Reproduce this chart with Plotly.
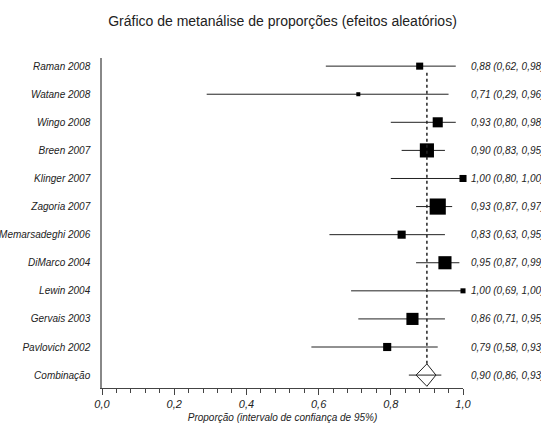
import plotly.graph_objects as go

studies = ["Raman 2008", "Watane 2008", "Wingo 2008", "Breen 2007", "Klinger 2007",
           "Zagoria 2007", "Memarsadeghi 2006", "DiMarco 2004", "Lewin 2004",
           "Gervais 2003", "Pavlovich 2002"]
est = [0.88, 0.71, 0.93, 0.90, 1.00, 0.93, 0.83, 0.95, 1.00, 0.86, 0.79]
lo = [0.62, 0.29, 0.80, 0.83, 0.80, 0.87, 0.63, 0.87, 0.69, 0.71, 0.58]
hi = [0.98, 0.96, 0.98, 0.95, 1.00, 0.97, 0.95, 0.99, 1.00, 0.95, 0.93]
weights = [4.3, 1.4, 8.8, 17.3, 4.3, 22.6, 5.7, 14.9, 2.2, 12.7, 5.7]

pooled_label = "Combinação"
pooled_est = 0.90
pooled_lo = 0.86
pooled_hi = 0.93

title = "Gráfico de metanálise de proporções (efeitos aleatórios)"
x_title = "Proporção (intervalo de confiança de 95%)"
x_ticks = [0.0, 0.2, 0.4, 0.6, 0.8, 1.0]


def fmt(v):
    return f"{v:.2f}".replace(".", ",")


n = len(studies)
y_study = list(range(n + 1, 1, -1))
y_pool = 1
labels_all = studies + [pooled_label]
y_all = y_study + [y_pool]

FONT = "Liberation Sans, Arial, sans-serif"
fig = go.Figure()

# CI lines
for yy, a, b in zip(y_study, lo, hi):
    fig.add_trace(go.Scatter(x=[a, b], y=[yy, yy], mode="lines",
                             line=dict(color="#222", width=1), hoverinfo="skip",
                             showlegend=False))

# squares, area proportional to weight
sizes = [3.4 * (w ** 0.5) for w in weights]
fig.add_trace(go.Scatter(x=est, y=y_study, mode="markers",
                         marker=dict(symbol="square", size=sizes, color="black",
                                     opacity=1, line=dict(width=0)),
                         cliponaxis=False, showlegend=False))

# pooled: horizontal line + diamond
fig.add_trace(go.Scatter(x=[pooled_lo - 0.01, pooled_hi + 0.01], y=[y_pool, y_pool],
                         mode="lines", line=dict(color="#222", width=1),
                         showlegend=False))
dh = 0.4
fig.add_trace(go.Scatter(
    x=[pooled_lo + 0.01, pooled_est, pooled_hi - 0.005, pooled_est, pooled_lo + 0.01],
    y=[y_pool, y_pool + dh, y_pool, y_pool - dh, y_pool],
    mode="lines", line=dict(color="#222", width=1), fill="toself",
    fillcolor="rgba(255,255,255,0)", showlegend=False))

# dotted reference line at pooled estimate
fig.add_shape(type="line", x0=pooled_est, x1=pooled_est, y0=y_pool + dh,
              y1=y_study[0] - 0.15, xref="x", yref="y",
              line=dict(color="#222", width=1.5, dash="dot"))

# right-side labels
right_texts = [f"{fmt(e)} ({fmt(a)}, {fmt(b)})" for e, a, b in zip(est, lo, hi)]
right_texts.append(f"{fmt(pooled_est)} ({fmt(pooled_lo)}, {fmt(pooled_hi)})")
for yy, t in zip(y_all, right_texts):
    fig.add_annotation(x=1, xref="paper", y=yy, yref="y", text=t, showarrow=False,
                       xanchor="left", xshift=6,
                       font=dict(family=FONT, size=10, color="#222", style="italic"))

fig.update_layout(
    width=541, height=424,
    margin=dict(l=102, r=78, t=58, b=36, autoexpand=False),
    paper_bgcolor="white", plot_bgcolor="white",
    separators=",.",
    title=dict(text=title, x=0.5, xref="paper", y=1 - 21 / 424, yref="container",
               xanchor="center", yanchor="middle",
               font=dict(family=FONT, size=14, color="#222")),
    font=dict(family=FONT, color="#222"),
)

fig.update_xaxes(range=[0, 1.0], tickvals=x_ticks, tickformat=".1f",
                 automargin=False,
                 showgrid=False, zeroline=False, showline=True,
                 linecolor="#444", linewidth=1.2,
                 ticks="outside", ticklen=6, tickcolor="#444", tickwidth=1,
                 minor=dict(dtick=0.04, tick0=0, ticks="outside", ticklen=4,
                            tickcolor="#444", tickwidth=1, showgrid=False),
                 tickfont=dict(family=FONT, size=11, color="#222", style="italic"),
                 title=dict(text=x_title, standoff=4,
                            font=dict(family=FONT, size=10, color="#222", style="italic")))

fig.update_yaxes(range=[0.54, n + 1.29], tickvals=y_all, ticktext=labels_all,
                 automargin=False,
                 showgrid=False, zeroline=False, showline=True,
                 linecolor="#888", linewidth=1.5, ticks="",
                 ticklabelstandoff=8,
                 tickfont=dict(family=FONT, size=10, color="#222", style="italic"))

fig.write_html("out.html")
